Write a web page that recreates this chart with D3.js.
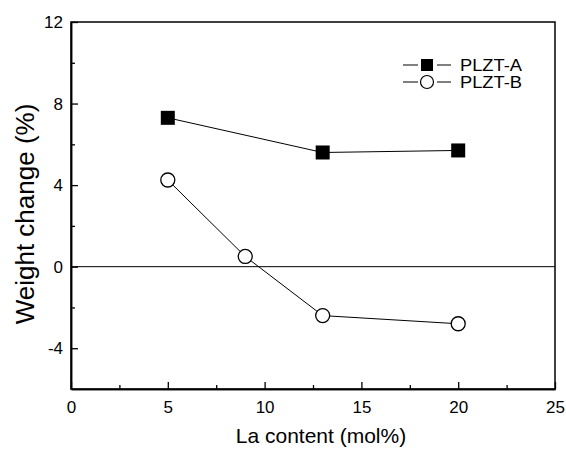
<!DOCTYPE html>
<html>
<head>
<meta charset="utf-8">
<script src="https://cdn.jsdelivr.net/npm/d3@7"></script>
<style>
body{margin:0;background:#fff;}
text{font-family:"Liberation Sans",Arial,sans-serif;fill:#000;}
</style>
</head>
<body>
<svg width="566" height="450"></svg>
<script>
// data
var laA=[5,13,20], wA=[7.3,5.6,5.7];
var laB=[5,9,13,20], wB=[4.25,0.5,-2.4,-2.8];
var xMajor=[0,5,10,15,20,25], xMinor=[2.5,7.5,12.5,17.5,22.5];
var yMajor=[-4,0,4,8,12], yMinor=[-2,2,6,10];

var svg=d3.select('svg');
var L=71, R=555, T=22, B=389;
var x=d3.scaleLinear().domain([0,25]).range([L,R]);
var y=d3.scaleLinear().domain([-6,12]).range([B,T]);

// frame
svg.append('rect').attr('x',L).attr('y',T).attr('width',R-L).attr('height',B-T)
	.attr('fill','none').attr('stroke','#000').attr('stroke-width',1.5);

// axes, ticks pointing inwards
svg.append('g').attr('transform','translate(0,'+B+')')
	.call(d3.axisBottom(x).tickValues(xMajor).tickSizeInner(-7).tickSizeOuter(0).tickPadding(12));
svg.append('g').attr('transform','translate(0,'+B+')')
	.call(d3.axisBottom(x).tickValues(xMinor).tickSizeInner(-4).tickSizeOuter(0).tickFormat(''));
svg.append('g').attr('transform','translate('+L+',0)')
	.call(d3.axisLeft(y).tickValues(yMajor).tickSizeInner(-7).tickSizeOuter(0).tickPadding(8)
		.tickFormat(function(d){return String(d);}));
svg.append('g').attr('transform','translate('+L+',0)')
	.call(d3.axisLeft(y).tickValues(yMinor).tickSizeInner(-4).tickSizeOuter(0).tickFormat(''));
svg.selectAll('.domain').attr('stroke','#000').attr('stroke-width',1.5);
svg.selectAll('.tick line').attr('stroke','#000').attr('stroke-width',1.3);
svg.selectAll('.tick text').style('font-size','17px').style('font-family','"Liberation Sans",Arial,sans-serif');

// zero line
svg.append('line').attr('x1',L).attr('x2',R).attr('y1',y(0)).attr('y2',y(0))
	.attr('stroke','#000').attr('stroke-width',1);

// titles
svg.append('text').attr('x',(L+R)/2+8).attr('y',443).attr('text-anchor','middle')
	.style('font-size','21px').text('La content (mol%)');
svg.append('text').attr('transform','translate(34,214) rotate(-90)')
	.attr('text-anchor','middle').style('font-size','26px').text('Weight change (%)');

// series
var line=d3.line().x(function(d){return x(d[0]);}).y(function(d){return y(d[1]);});
var ptsA=laA.map(function(v,i){return [v,wA[i]];});
var ptsB=laB.map(function(v,i){return [v,wB[i]];});
svg.append('path').datum(ptsA).attr('d',line).attr('fill','none').attr('stroke','#000').attr('stroke-width',1);
svg.append('path').datum(ptsB).attr('d',line).attr('fill','none').attr('stroke','#000').attr('stroke-width',1);
svg.selectAll('.sqA').data(ptsA).enter().append('rect')
	.attr('x',function(d){return x(d[0])-7;}).attr('y',function(d){return y(d[1])-7;})
	.attr('width',14).attr('height',14).attr('fill','#000');
svg.selectAll('.ciB').data(ptsB).enter().append('circle')
	.attr('cx',function(d){return x(d[0]);}).attr('cy',function(d){return y(d[1]);})
	.attr('r',7).attr('fill','#fff').attr('stroke','#000').attr('stroke-width',1.3);

// legend
var lg=svg.append('g');
[[65,'PLZT-A'],[82,'PLZT-B']].forEach(function(r,i){
	lg.append('line').attr('x1',403).attr('x2',418).attr('y1',r[0]).attr('y2',r[0]).attr('stroke','#000');
	lg.append('line').attr('x1',437).attr('x2',451).attr('y1',r[0]).attr('y2',r[0]).attr('stroke','#000');
	if(i==0) lg.append('rect').attr('x',421).attr('y',r[0]-6).attr('width',12).attr('height',12).attr('fill','#000');
	else lg.append('circle').attr('cx',427).attr('cy',r[0]).attr('r',6.5).attr('fill','#fff').attr('stroke','#000').attr('stroke-width',1.2);
	lg.append('text').attr('x',460).attr('y',r[0]+5.5).style('font-size','16px')
		.attr('textLength',62).attr('lengthAdjust','spacingAndGlyphs').text(r[1]);
});
</script>
</body>
</html>
